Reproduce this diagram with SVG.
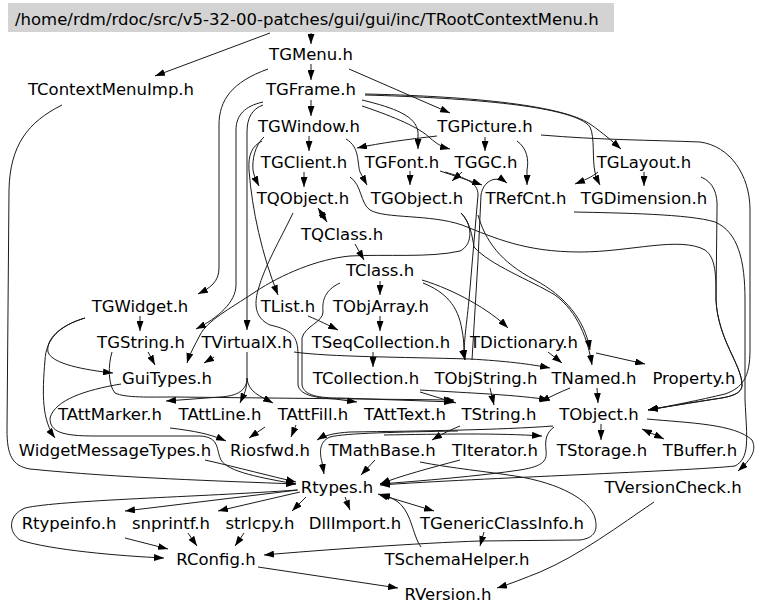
<svg xmlns="http://www.w3.org/2000/svg" width="768" height="614" viewBox="0 0 768 614">
<style>
text{font-family:"DejaVu Sans","Liberation Sans",sans-serif;font-size:16.5px;fill:#000;text-anchor:middle}
.e{fill:none;stroke:#1a1a1a;stroke-width:1;marker-end:url(#a)}
.d{marker-start:url(#a)}
</style>
<defs>
<marker id="a" viewBox="0 0 10 7" refX="10" refY="3.5" markerWidth="10" markerHeight="7" markerUnits="userSpaceOnUse" orient="auto-start-reverse"><path d="M0,0L10,3.5L0,7z" fill="#000"/></marker>
</defs>
<rect width="768" height="614" fill="#fff"/>
<g id="connectors">
<path class="e" d="M311,33L311,44"/>
<path class="e" d="M270,33L155,76"/>
<path class="e" d="M311,64L311,80"/>
<path class="e" d="M349,69L450,113"/>
<path class="e" d="M268,69C232,82 219,100 219,125L219,268C219,282 210,288 198,294"/>
<path class="e" d="M62,105C28,122 10,145 9,190L7,430C7,455 12,466 30,469C120,478 220,481 296,484"/>
<path class="e" d="M311,100L311,116"/>
<path class="e" d="M365,94C460,96 560,104 590,124C603,133 612,141 621,149"/>
<path class="e" d="M365,95C470,98 575,106 590,127C595,137 592,160 595,172C596,178 598,181 600,185"/>
<path class="e" d="M362,100C395,108 416,116 418,132L418,149"/>
<path class="e" d="M362,106C395,117 420,128 430,138C437,144 442,147 450,149"/>
<path class="e" d="M263,105C252,109 247,118 247,132L247,330"/>
<path class="e" d="M263,102C245,106 236,115 236,130L236,285C236,302 218,318 196,329"/>
<path class="e" d="M309,136L309,151"/>
<path class="e" d="M346,139C360,147 357,163 360,172L367,185"/>
<path class="e" d="M262,141C252,146 248,155 249,170C252,210 262,255 278,295"/>
<path class="e" d="M264,137C255,145 252,160 253,170C254,176 256,180 259,186"/>
<path class="e" d="M437,136C410,139 380,143 357,148"/>
<path class="e" d="M485,137L485,151"/>
<path class="e" d="M517,141C527,148 529,160 527,170L527,185"/>
<path class="e" d="M541,135C600,140 650,140 700,142C730,146 750,175 750,210L750,350C750,378 742,388 725,394C700,400 670,406 648,410"/>
<path class="e" d="M644,172L644,186"/>
<path class="e" d="M598,172C592,177 585,180 575,184"/>
<path class="e" d="M701,177C713,182 718,193 717,210L716,300C718,340 742,365 742,385C742,394 730,397 715,399C690,403 670,406 648,410"/>
<path class="e" d="M574,212C620,213 690,214 715,222C738,232 745,260 745,300L745,400C747,440 750,458 735,466C690,471 480,478 380,485"/>
<path class="e" d="M647,419C690,423 735,424 752,440C758,452 748,462 738,471"/>
<path class="e" d="M304,172L304,187"/>
<path class="e" d="M350,177C362,185 360,203 370,210C385,219 430,214 462,225C495,238 525,252 580,252C630,252 680,236 705,250C716,258 716,275 716,300C718,340 742,365 742,385C742,394 730,397 715,399C690,403 670,406 648,410"/>
<path class="e" d="M461,213C472,224 474,244 460,251C430,258 385,254 350,256C318,259 282,274 255,292C228,310 208,320 200,335C195,345 190,353 187,363"/>
<path class="e" d="M461,213C470,222 472,235 474,247C490,265 530,280 555,295C578,312 588,340 592,365"/>
<path class="e" d="M478,215C485,240 500,262 535,280C565,296 585,320 590,350"/>
<path class="e" d="M440,171C455,176 468,180 482,185"/>
<path class="e" d="M462,172L452,181"/>
<path class="e" d="M410,171L410,185"/>
<path class="e" d="M445,172C465,178 478,182 478,195L469,300C466,330 463,345 465,360"/>
<path class="e" d="M472,360L478,260L481,195C483,182 495,174 507,183"/>
<path class="e d" d="M318,208L327,222"/>
<path class="e" d="M355,244L364,260"/>
<path class="e" d="M380,281L380,295"/>
<path class="e" d="M422,280C455,290 490,310 508,328"/>
<path class="e" d="M423,283C445,292 458,305 462,330C465,345 463,352 465,360"/>
<path class="e" d="M340,283C325,290 322,300 323,312C323,322 305,326 302,338L302,385C304,396 320,398 340,398L454,402"/>
<path class="e" d="M293,213C280,240 265,265 258,290C254,305 255,318 270,325C292,330 298,336 298,355L298,385C300,396 318,398 335,399L357,402"/>
<path class="e" d="M380,316L380,331"/>
<path class="e" d="M308,316C320,321 328,325 338,330"/>
<path class="e" d="M373,352L373,367"/>
<path class="e" d="M294,352C330,357 400,357 470,359C505,361 530,364 550,368"/>
<path class="e" d="M548,352L562,363"/>
<path class="e" d="M596,353L645,364"/>
<path class="e" d="M140,316L140,331"/>
<path class="e" d="M85,318C58,326 46,340 48,352C52,364 85,370 113,373"/>
<path class="e" d="M85,318C58,326 46,340 45,360C42,395 42,420 55,438"/>
<path class="e" d="M148,352L155,365"/>
<path class="e" d="M214,357L204,363"/>
<path class="e" d="M112,352C108,365 108,385 115,393C125,398 150,397 175,397L454,400"/>
<path class="e" d="M247,352L247,378C247,390 238,396 220,397L166,401"/>
<path class="e" d="M247,378C247,390 244,394 240,403"/>
<path class="e" d="M247,378C248,392 260,396 273,403"/>
<path class="e" d="M121,384C85,390 55,400 50,418C50,432 62,436 95,436L200,436C220,437 216,450 221,460C228,472 262,478 296,484"/>
<path class="e" d="M170,428C195,431 210,434 226,441"/>
<path class="e" d="M265,427L249,438"/>
<path class="e" d="M296,425L291,437"/>
<path class="e" d="M553,426C500,430 420,431 350,432C335,433 325,435 317,440"/>
<path class="e" d="M458,431C400,432 345,433 330,437C318,442 320,455 322,462L324,474"/>
<path class="e" d="M460,426C450,430 442,434 432,440"/>
<path class="e" d="M384,435C440,434 500,433 542,436"/>
<path class="e" d="M420,390C470,393 520,395 549,400"/>
<path class="e" d="M420,392L456,403"/>
<path class="e" d="M490,388L494,405"/>
<path class="e" d="M570,388C560,392 550,397 540,402"/>
<path class="e" d="M597,388L598,403"/>
<path class="e" d="M601,424L601,440"/>
<path class="e d" d="M642,429L664,439"/>
<path class="e" d="M554,427C546,433 545,440 546,450C547,460 545,466 520,470C480,476 420,481 380,484"/>
<path class="e" d="M460,460C430,468 400,476 380,484"/>
<path class="e" d="M375,460L361,475"/>
<path class="e" d="M205,460C240,468 270,476 296,482"/>
<path class="e" d="M298,490L125,511"/>
<path class="e" d="M300,492L218,511"/>
<path class="e" d="M306,497L292,511"/>
<path class="e" d="M345,497L350,510"/>
<path class="e d" d="M378,494L434,511"/>
<path class="e" d="M297,490C200,497 60,500 25,508C8,515 8,532 20,540C50,550 120,556 164,558"/>
<path class="e" d="M125,538L168,549"/>
<path class="e" d="M188,533L197,546"/>
<path class="e" d="M244,533L235,546"/>
<path class="e" d="M420,462C450,468 490,472 515,476C560,483 590,500 595,518C598,530 595,538 580,540L480,541C420,543 320,550 264,555"/>
<path class="e" d="M484,532L480,546"/>
<path class="e" d="M421,547C412,535 412,510 395,500C390,497 386,496 380,495"/>
<path class="e" d="M258,567L398,588"/>
<path class="e" d="M654,502C620,525 580,555 540,572C525,578 510,584 497,588"/>
</g>
<g id="TRootContextMenu"><rect x="8" y="3" width="606" height="29" fill="#d3d3d3"/><text x="15" y="25" style="text-anchor:start">/home/rdm/rdoc/src/v5-32-00-patches/gui/gui/inc/TRootContextMenu.h</text></g>
<g id="TGMenu"><text x="311" y="60">TGMenu.h</text></g>
<g id="TContextMenuImp"><text x="111" y="95">TContextMenuImp.h</text></g>
<g id="TGFrame"><text x="311" y="95">TGFrame.h</text></g>
<g id="TGWindow"><text x="309" y="132">TGWindow.h</text></g>
<g id="TGPicture"><text x="485" y="132">TGPicture.h</text></g>
<g id="TGClient"><text x="304" y="168">TGClient.h</text></g>
<g id="TGFont"><text x="402" y="168">TGFont.h</text></g>
<g id="TGGC"><text x="486" y="168">TGGC.h</text></g>
<g id="TGLayout"><text x="644" y="168">TGLayout.h</text></g>
<g id="TQObject"><text x="303" y="204">TQObject.h</text></g>
<g id="TGObject"><text x="417" y="204">TGObject.h</text></g>
<g id="TRefCnt"><text x="526" y="204">TRefCnt.h</text></g>
<g id="TGDimension"><text x="644" y="204">TGDimension.h</text></g>
<g id="TQClass"><text x="342" y="240">TQClass.h</text></g>
<g id="TClass"><text x="380" y="276">TClass.h</text></g>
<g id="TGWidget"><text x="140" y="312">TGWidget.h</text></g>
<g id="TList"><text x="288" y="312">TList.h</text></g>
<g id="TObjArray"><text x="381" y="312">TObjArray.h</text></g>
<g id="TGString"><text x="141" y="348">TGString.h</text></g>
<g id="TVirtualX"><text x="247" y="348">TVirtualX.h</text></g>
<g id="TSeqCollection"><text x="381" y="348">TSeqCollection.h</text></g>
<g id="TDictionary"><text x="524" y="348">TDictionary.h</text></g>
<g id="GuiTypes"><text x="167" y="384">GuiTypes.h</text></g>
<g id="TCollection"><text x="366" y="384">TCollection.h</text></g>
<g id="TObjString"><text x="486" y="384">TObjString.h</text></g>
<g id="TNamed"><text x="594" y="384">TNamed.h</text></g>
<g id="Property"><text x="694" y="384">Property.h</text></g>
<g id="TAttMarker"><text x="110" y="420">TAttMarker.h</text></g>
<g id="TAttLine"><text x="220" y="420">TAttLine.h</text></g>
<g id="TAttFill"><text x="313" y="420">TAttFill.h</text></g>
<g id="TAttText"><text x="405" y="420">TAttText.h</text></g>
<g id="TString"><text x="499" y="420">TString.h</text></g>
<g id="TObject"><text x="599" y="420">TObject.h</text></g>
<g id="WidgetMessageTypes"><text x="115" y="456">WidgetMessageTypes.h</text></g>
<g id="Riosfwd"><text x="270" y="456">Riosfwd.h</text></g>
<g id="TMathBase"><text x="382" y="456">TMathBase.h</text></g>
<g id="TIterator"><text x="495" y="456">TIterator.h</text></g>
<g id="TStorage"><text x="602" y="456">TStorage.h</text></g>
<g id="TBuffer"><text x="700" y="456">TBuffer.h</text></g>
<g id="Rtypes"><text x="337" y="493">Rtypes.h</text></g>
<g id="TVersionCheck"><text x="673" y="493">TVersionCheck.h</text></g>
<g id="Rtypeinfo"><text x="69" y="529">Rtypeinfo.h</text></g>
<g id="snprintf"><text x="171" y="529">snprintf.h</text></g>
<g id="strlcpy"><text x="260" y="529">strlcpy.h</text></g>
<g id="DllImport"><text x="355" y="529">DllImport.h</text></g>
<g id="TGenericClassInfo"><text x="502" y="529">TGenericClassInfo.h</text></g>
<g id="RConfig"><text x="216" y="565">RConfig.h</text></g>
<g id="TSchemaHelper"><text x="457" y="565">TSchemaHelper.h</text></g>
<g id="RVersion"><text x="448" y="600">RVersion.h</text></g>
</svg>
